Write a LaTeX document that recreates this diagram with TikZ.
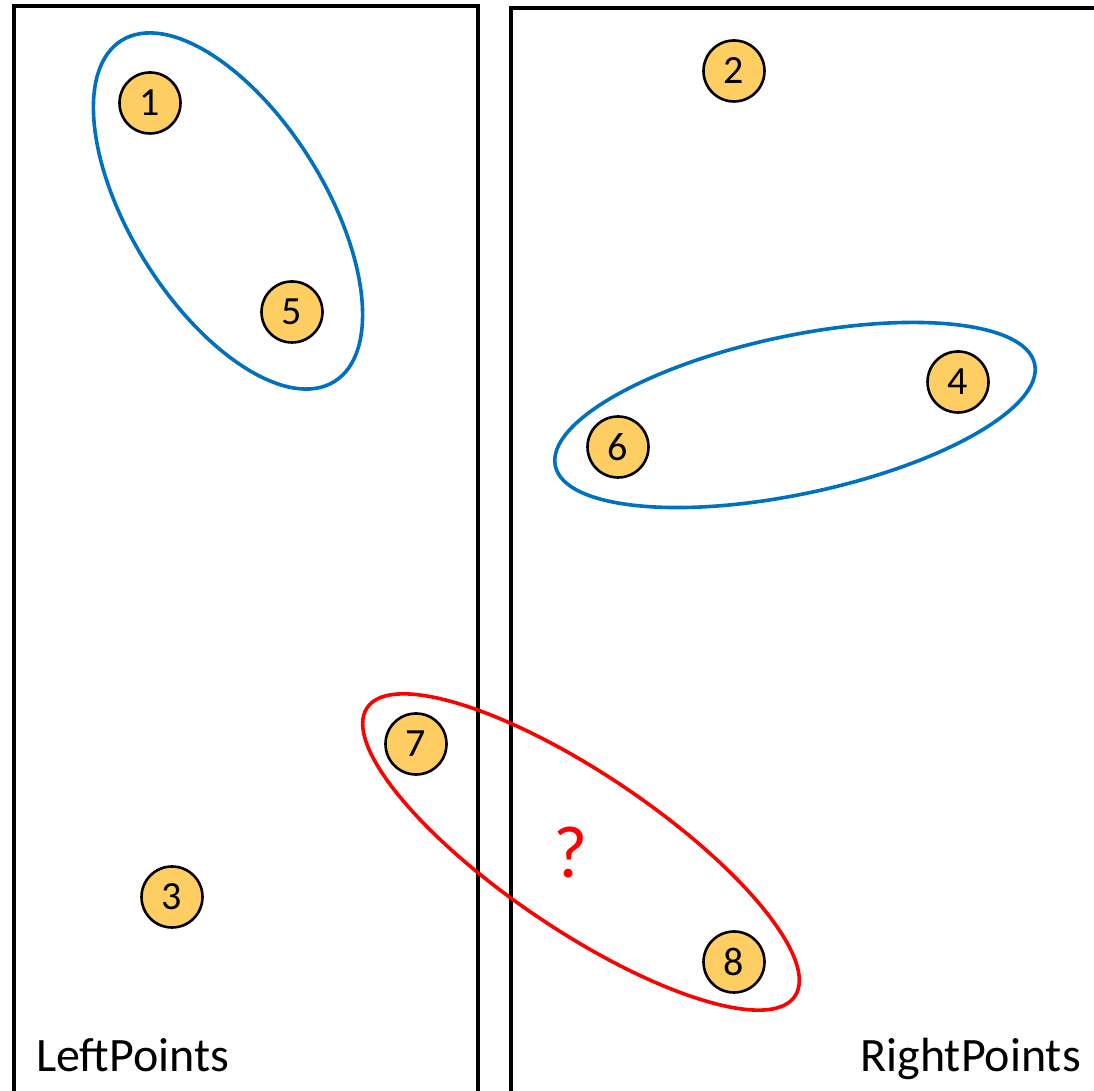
\documentclass[tikz,border=0pt]{standalone}
\usepackage{fontspec}
\setmainfont{Carlito}
\usepackage{xcolor}
\definecolor{ptfill}{RGB}{255, 206, 99}
\definecolor{grpblue}{RGB}{0, 112, 192}
\definecolor{grpred}{RGB}{255, 0, 0}
\usepackage{tikz}
\usetikzlibrary{positioning}

\begin{document}
\begin{tikzpicture}[
  x=1pt, y=1pt,
  point/.style={circle, draw=black, fill=ptfill, line width=2.6pt, minimum size=61pt, inner sep=0pt, font=\fontsize{40}{40}\selectfont},
  side/.style={draw=black, line width=3.6pt},
  group/.style={line width=3.6pt},
  setname/.style={font=\fontsize{48}{48}\selectfont, inner sep=0pt}
]
\useasboundingbox (0,0) rectangle (1094,1091);
\clip (0,0) rectangle (1094,1091);

% the two halves
\draw[side] (14,-20) |- (478,1085) -- (478,-20);
\draw[side] (511,-20) |- (1120,1083);

% points
\node[point] (p1) at (150,988) {1};
\node[point] (p2) at (734,1020) {2};
\node[point] (p3) at (172,194) {3};
\node[point] (p4) at (958,709) {4};
\node[point] (p5) at (292,779) {5};
\node[point] (p6) at (618,644) {6};
\node[point] (p7) at (416,347) {7};
\node[point] (p8) at (734,129) {8};

% groups
\coordinate (g15) at (228,880);
\coordinate (g64) at (795,676);
\coordinate (g78) at (581,239);
\draw[group, grpblue] (g15) ellipse [x radius=201, y radius=97, rotate=-58];
\draw[group, grpblue] (g64) ellipse [x radius=245, y radius=79, rotate=12];
\draw[group, grpred] (g78) ellipse [x radius=258, y radius=78, rotate=-34];
\node[text=grpred, font=\fontsize{74}{74}\selectfont] (ask) at (571,239) {?};

% labels
\node[setname, anchor=base west] (left) at (36,19) {LeftPoints};
\node[setname, anchor=base east] (right) at (1081,19) {RightPoints};
\end{tikzpicture}
\end{document}
